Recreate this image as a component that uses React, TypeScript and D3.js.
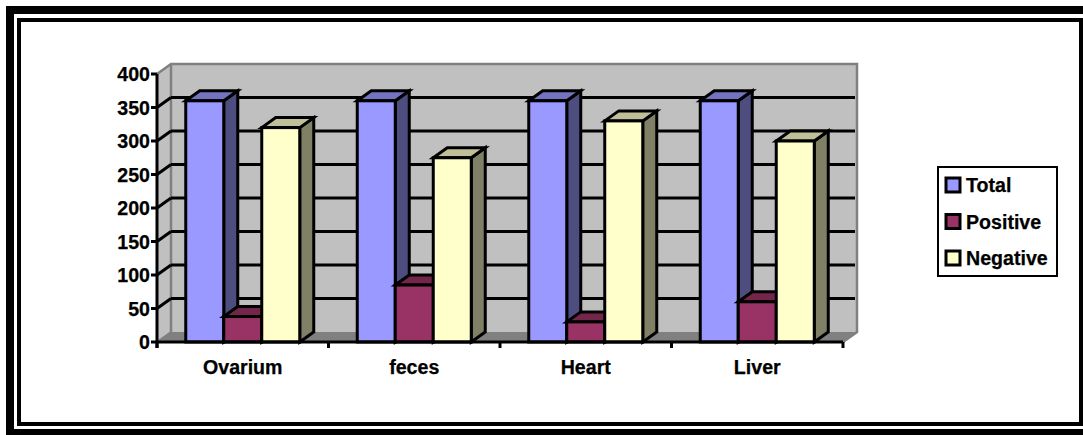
import React from "react";
import * as d3 from "d3";

const categories = ["Ovarium", "feces", "Heart", "Liver"];
const total = [360, 360, 360, 360];
const positive = [38, 85, 30, 60];
const negative = [320, 275, 330, 300];
const yTicks = [0, 50, 100, 150, 200, 250, 300, 350, 400];
const seriesNames = ["Total", "Positive", "Negative"];
const seriesValues = [total, positive, negative];
const fronts = ["#9999FF", "#993366", "#FFFFCC"];
const sides = ["#4D4D80", "#4D1A33", "#808066"];
const tops = ["#7373BF", "#732649", "#BFBF99"];

const W = 1083, H = 435;
const DX = 14, DY = 10;
const font = "'Liberation Sans', Arial, sans-serif";
const FS = 19.6;

const x0 = d3.scaleBand<string>().domain(categories).range([157, 843]).paddingInner(0).paddingOuter(0);
const y = d3.scaleLinear().domain([0, 400]).range([342, 74]);
const barW = 38;
const poly = (pts: number[][]) => pts.map((p) => p.join(",")).join(" ");

export default function App() {
  const L = x0.range()[0], R = x0.range()[1];
  const B = y(0), T = y(400);
  const textProps = { fontSize: FS, fill: "#000", stroke: "#000", strokeWidth: 0.25 };
  return (
    <svg width={W} height={H} style={{ position: "absolute", left: 0, top: 0 }} fontFamily={font} fontWeight="bold">
      <rect width={W} height={H} fill="#fff" />
      {/* double frame */}
      <rect x={6} y={6} width={W - 6} height={8} fill="#000" />
      <rect x={6} y={6} width={8} height={H - 6} fill="#000" />
      <rect x={6} y={429} width={W - 6} height={6} fill="#000" />
      <rect x={17} y={18} width={W - 17} height={4} fill="#000" />
      <rect x={17} y={18} width={4} height={408} fill="#000" />
      <rect x={17} y={422} width={W - 17} height={4} fill="#000" />
      <rect x={1079} y={18} width={4} height={408} fill="#000" />

      {/* walls */}
      <polygon points={poly([[L, T], [L + DX, T - DY], [L + DX, B - DY], [L, B]])} fill="#C0C0C0" />
      <polygon points={poly([[L + DX, T - DY], [R + DX, T - DY], [R + DX, B - DY], [L + DX, B - DY]])} fill="#C0C0C0" />
      <polygon points={poly([[L, B], [L + DX, B - DY], [R + DX, B - DY], [R, B]])} fill="#808080" />
      <polyline points={poly([[L, T], [L + DX, T - DY], [R + DX, T - DY], [R + DX, B - DY], [R, B]])} fill="none" stroke="#808080" strokeWidth={2.5} />
      <line x1={L + DX} x2={L + DX} y1={T - DY} y2={B - DY} stroke="#808080" strokeWidth={2.5} />
      <line x1={L} x2={L + DX} y1={B} y2={B - DY} stroke="#808080" strokeWidth={2} />

      {/* gridlines */}
      {yTicks.filter((t) => t > 0 && t < 400).map((t) => (
        <g key={t}>
          <line x1={L + DX} x2={R + DX - 2} y1={y(t) - DY} y2={y(t) - DY} stroke="#000" strokeWidth={3} />
          <line x1={L} x2={L + DX} y1={y(t)} y2={y(t) - DY} stroke="#000" strokeWidth={3} />
        </g>
      ))}

      {/* bars */}
      {categories.map((c, i) => {
        const start = x0(c)! + (x0.bandwidth() - barW * 3) / 2;
        return (
          <g key={c}>
            {[0, 1, 2].map((s) => {
              const v = seriesValues[s][i];
              const x = start + s * barW;
              const yy = y(v);
              return (
                <g key={s} stroke="#000" strokeWidth={3} strokeLinejoin="miter">
                  <polygon points={poly([[x + barW, yy], [x + barW + DX, yy - DY], [x + barW + DX, B - DY], [x + barW, B]])} fill={sides[s]} />
                  <polygon points={poly([[x, yy], [x + DX, yy - DY], [x + barW + DX, yy - DY], [x + barW, yy]])} fill={tops[s]} />
                  <rect x={x} y={yy} width={barW} height={B - yy} fill={fronts[s]} />
                </g>
              );
            })}
          </g>
        );
      })}

      {/* axes */}
      <line x1={L} x2={L} y1={T} y2={B + 6} stroke="#000" strokeWidth={3} />
      <line x1={L} x2={R} y1={B} y2={B} stroke="#000" strokeWidth={3} />
      {yTicks.map((t) => (
        <g key={t}>
          <line x1={L - 6} x2={L} y1={y(t)} y2={y(t)} stroke="#000" strokeWidth={3} />
          <text x={L - 7} y={y(t)} textAnchor="end" dominantBaseline="central" {...textProps}>{t}</text>
        </g>
      ))}
      {[...categories.map((c) => x0(c)!), R].map((x, i) => (
        <line key={i} x1={x} x2={x} y1={B} y2={B + 6} stroke="#000" strokeWidth={3} />
      ))}
      {categories.map((c) => (
        <text key={c} x={x0(c)! + x0.bandwidth() / 2} y={374} textAnchor="middle" {...textProps}>{c}</text>
      ))}

      {/* legend */}
      <rect x={938} y={167} width={119} height={109} fill="#fff" stroke="#000" strokeWidth={2} />
      {seriesNames.map((n, i) => {
        const cy = 185 + i * 36.5;
        return (
          <g key={n}>
            <rect x={946} y={cy - 7} width={14} height={14} fill={fronts[i]} stroke="#000" strokeWidth={3} />
            <text x={966} y={cy + 7} {...textProps}>{n}</text>
          </g>
        );
      })}
    </svg>
  );
}
